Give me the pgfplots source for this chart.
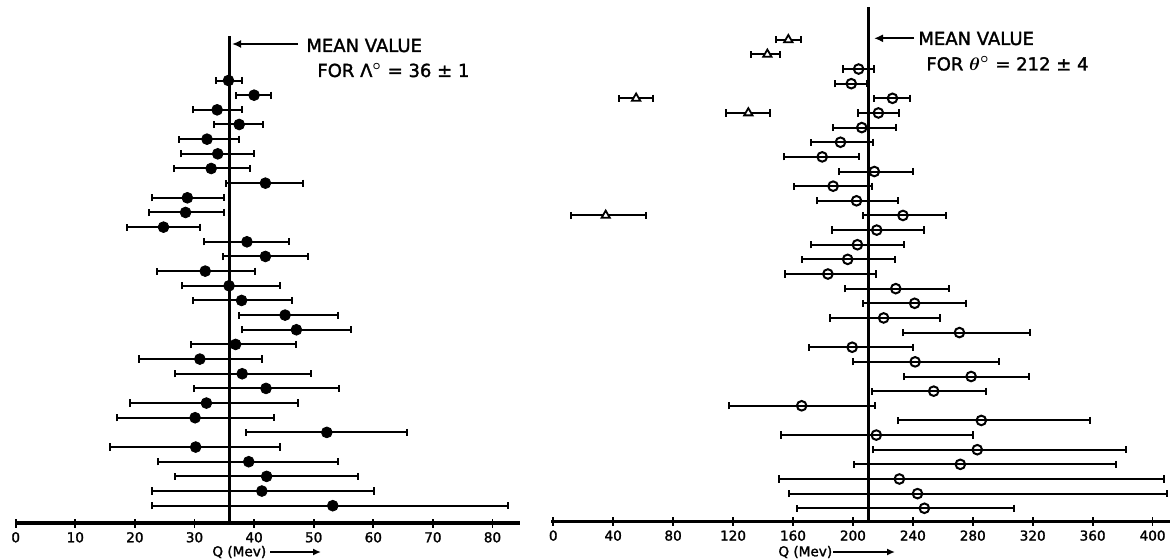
\documentclass[border=0pt]{standalone}
\usepackage{pgfplots}
\pgfplotsset{compat=1.18}
\usepackage{pgfplotstable}
\usepackage{bm}
\usepackage{fontspec}
\setmainfont{DejaVu Sans}[BoldFont=DejaVu Sans, BoldFeatures={FakeBold=1.6}]
\usetikzlibrary{arrows.meta}

% Lambda: k = row (1 = bottom), q = Q value, lo/hi = ends of error bar
\pgfplotstableread{
k q lo hi
30 35.7 33.6 37.9
29 40.0 37.0 42.8
28 33.8 29.7 37.9
27 37.5 33.3 41.5
26 32.1 27.4 37.4
25 33.9 27.7 40.0
24 32.8 26.6 39.3
23 41.9 35.3 48.2
22 28.8 22.9 35.0
21 28.5 22.4 35.0
20 24.8 18.7 30.9
19 38.8 31.6 45.9
18 41.9 34.8 49.1
17 31.8 23.7 40.1
16 35.8 27.9 44.3
15 37.9 29.7 46.4
14 45.2 37.4 54.0
13 47.1 37.9 56.2
12 36.9 29.4 47.1
11 30.9 20.7 41.3
10 38.0 26.8 49.5
9 42.0 29.9 54.2
8 32.0 19.1 47.3
7 30.1 17.0 43.3
6 52.2 38.7 65.7
5 30.2 15.9 44.3
4 39.1 23.8 54.1
3 42.1 26.8 57.5
2 41.3 22.8 60.1
1 53.2 22.8 82.6
}\lambdadata

% theta: open circles
\pgfplotstableread{
k q lo hi
31 203.8 193.3 214.3
30 198.9 187.9 209.4
29 226.4 214.3 238.3
28 217.0 203.5 231.0
27 205.9 186.8 228.6
26 191.7 171.7 213.5
25 179.5 154.2 203.8
24 214.3 190.6 240.4
23 186.8 160.4 212.4
22 202.4 176.0 230.2
21 233.4 206.7 262.0
20 215.9 186.3 247.7
19 203.0 172.2 234.0
18 196.5 166.0 227.8
17 183.3 154.7 215.4
16 228.6 194.9 263.9
15 241.2 207.0 275.7
14 220.5 184.4 257.9
13 271.1 233.7 318.0
12 199.5 170.6 239.9
11 241.5 200.3 297.6
10 278.9 234.2 317.3
9 253.9 212.7 289.0
8 165.8 117.3 214.6
7 285.7 230.4 358.5
6 215.6 152.0 280.1
5 283.0 213.2 382.4
4 271.7 200.8 375.7
3 231.0 150.9 407.8
2 243.1 157.2 409.7
1 247.7 162.6 307.5
}\thetadata

% triangles
\pgfplotstableread{
k q lo hi
33 156.9 148.8 165.5
32 142.9 131.8 151.5
29 55.3 43.7 66.6
28 130.2 115.4 144.5
21 35.0 11.6 61.7
}\tridata

\pgfplotsset{
  panel/.style={
    scale only axis,
    anchor=south west,
    axis x line=bottom,
    axis y line=none,
    ytick=\empty,
    tick align=center,
    major tick length=4.5pt,
    xtick style={line width=0.9pt, black},
    ticklabel style={font=\fontsize{6.8}{7}\selectfont\bfseries, black},
    xticklabel style={yshift=1.2pt},
    /pgf/number format/assume math mode=true,
    clip=false,
  },
  ebars/.style={
    error bars/.cd, x dir=both, x explicit,
    error bar style={line width=1pt, black},
    error mark options={rotate=90, line width=1pt, mark size=1.8pt, black},
  },
}

\begin{document}
\begin{tikzpicture}
% left panel (Lambda)
\begin{axis}[panel, at={(7.85pt,17.5pt)}, width=252.1pt, height=243.6pt,
  xmin=0, xmax=84.6, ymin=-0.18, ymax=33.05, xtick={0,10,...,80},
  x axis line style={-, line width=1.7pt}]
\addplot[black, line width=1.5pt] coordinates {(35.8,-0.18) (35.8,33.05)};
\addplot[only marks, mark=*, mark size=2.7pt, mark options={fill=black, draw=black}, ebars]
  table[x=q, y=k, x error plus expr=\thisrow{hi}-\thisrow{q}, x error minus expr=\thisrow{q}-\thisrow{lo}] {\lambdadata};
\end{axis}
% right panel (theta)
\begin{axis}[panel, at={(275.5pt,18.35pt)}, width=309.4pt, height=257.1pt,
  xmin=-1.5, xmax=411.5, ymin=0.11, ymax=35.23, xtick={0,40,...,400},
  x axis line style={-, line width=1.5pt}]
\addplot[black, line width=1.3pt] coordinates {(210.3,0.11) (210.3,35.23)};
\addplot[only marks, mark=o, mark size=2.4pt, mark options={fill=white, draw=black, line width=1pt}, ebars]
  table[x=q, y=k, x error plus expr=\thisrow{hi}-\thisrow{q}, x error minus expr=\thisrow{q}-\thisrow{lo}] {\thetadata};
\addplot[only marks, mark=triangle*, mark size=2.4pt, mark options={fill=white, draw=black, line width=0.9pt}, ebars]
  table[x=q, y=k, x error plus expr=\thisrow{hi}-\thisrow{q}, x error minus expr=\thisrow{q}-\thisrow{lo}] {\tridata};
\end{axis}
% annotations in pixel coordinates (origin top left)
\begin{scope}[shift={(0pt,279pt)}, x=0.5pt, y=-0.5pt]
\draw[line width=1.1pt, -{Latex[length=4.5pt, width=4pt]}] (298,44) -- (232,44);
\node[anchor=base west, inner sep=0pt, font=\fontsize{9}{10}\selectfont\bfseries] at (306,52) {MEAN VALUE};
\node[anchor=base west, inner sep=0pt, font=\fontsize{9}{10}\selectfont\bfseries] at (317,77) {FOR Λ$^{\bm{\circ}}$ = 36 ± 1};
\draw[line width=1.1pt, -{Latex[length=4.5pt, width=4pt]}] (914,38.3) -- (874,38.3);
\node[anchor=base west, inner sep=0pt, font=\fontsize{9}{10}\selectfont\bfseries] at (918,45) {MEAN VALUE};
\node[anchor=base west, inner sep=0pt, font=\fontsize{9}{10}\selectfont\bfseries] at (926,70.5) {FOR $\bm{\theta}^{\bm{\circ}}$ = 212 ± 4};
\node[anchor=west, inner sep=0pt, font=\fontsize{6.8}{7}\selectfont\bfseries] at (212,552) {Q (Mev)};
\draw[line width=1pt, -{Latex[length=4pt, width=3.5pt]}] (270,552) -- (321,552);
\node[anchor=west, inner sep=0pt, font=\fontsize{6.8}{7}\selectfont\bfseries] at (778,552) {Q (Mev)};
\draw[line width=1pt, -{Latex[length=4pt, width=3.5pt]}] (833,552) -- (895,552);
\end{scope}
\pgfresetboundingbox
\path[use as bounding box] (0,0) rectangle (585pt,279pt);
\end{tikzpicture}
\end{document}
